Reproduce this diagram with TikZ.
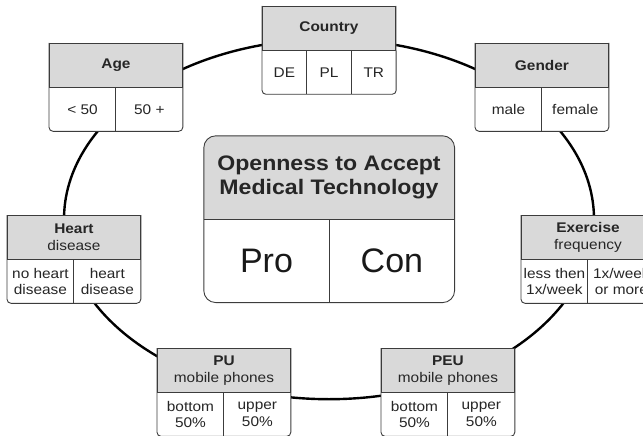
\documentclass[tikz,border=0pt]{standalone}
\usepackage{fontspec}
\setmainfont{Liberation Sans}[FakeStretch=1.1]
\newfontfamily\plainsans{Liberation Sans}
\usetikzlibrary{positioning,backgrounds}
\definecolor{headgray}{HTML}{D9D9D9}
\definecolor{edgegray}{HTML}{3C3C3C}
\definecolor{inkgray}{HTML}{262626}
\tikzset{
    head/.style={draw=edgegray, line width=0.9pt, fill=headgray, anchor=north west,
        minimum width=133pt, minimum height=44pt, inner sep=0pt, align=center,
        text=inkgray, font=\fontsize{14}{16.7}\selectfont},
    cell/.style={minimum width=66.5pt, minimum height=43pt, inner sep=0pt, align=center,
        text=inkgray, font=\fontsize{14}{16.7}\selectfont},
    cellthird/.style={cell, minimum width=44.33pt},
    corehead/.style={minimum width=250pt, minimum height=83pt, inner sep=0pt, align=center,
        text=inkgray, font=\fontsize{21}{23.5}\selectfont\bfseries},
    corecell/.style={minimum width=125pt, minimum height=83pt, inner sep=0pt,
        text=black!90, font=\plainsans\fontsize{34}{40}\selectfont},
    rule/.style={draw=edgegray, line width=0.9pt},
    ring/.style={draw=black, line width=2.4pt},
}
% white body with rounded lower corners
\newcommand{\catframe}[3]{%
    \begin{scope}[on background layer]
        \fill[white, rounded corners=4pt] (#1.north west) -- (#2.south west) -- (#3.south east) -- (#1.north east);
    \end{scope}
    \draw[rule, rounded corners=4pt] (#1.north west) -- (#2.south west) -- (#3.south east) -- (#1.north east);
}
\begin{document}
\begin{tikzpicture}[x=1pt, y=-1pt]
    \useasboundingbox (0,0) rectangle (643,436);

    % centre
    \node[corehead] (core) at (329,177.5) {Openness to Accept\\Medical Technology};
    \node[corecell, below right=0pt and 0pt of core.south west] (pro) {Pro};
    \node[corecell, right=0pt of pro] (con) {Con};
    \begin{scope}[on background layer]
        \draw[ring] (core.south) ellipse [x radius=265pt, y radius=180pt];
        \fill[white, rounded corners=12pt] (core.north west) rectangle (con.south east);
        \fill[headgray, rounded corners=12pt] (core.south west) -- (core.north west) -- (core.north east) -- (core.south east);
    \end{scope}
    \draw[rule, rounded corners=12pt] (core.north west) rectangle (con.south east);
    \draw[rule] (core.south west) -- (core.south east);
    \draw[rule] (pro.north east) -- (pro.south east);

    % age
    \node[head] (age) at (49,43) {\bfseries Age};
    \node[cell, below right=0pt and 0pt of age.south west] (age-a) {< 50};
    \node[cell, right=0pt of age-a] (age-b) {50 +};
    \catframe{age}{age-a}{age-b}
    \draw[rule] (age-a.north east) -- (age-a.south east);

    % country
    \node[head] (country) at (262,6) {\bfseries Country};
    \node[cellthird, below right=0pt and 0pt of country.south west] (country-a) {DE};
    \node[cellthird, right=0pt of country-a] (country-b) {PL};
    \node[cellthird, right=0pt of country-b] (country-c) {TR};
    \catframe{country}{country-a}{country-c}
    \draw[rule] (country-a.north east) -- (country-a.south east);
    \draw[rule] (country-b.north east) -- (country-b.south east);

    % gender
    \node[head] (gender) at (475,43) {\bfseries Gender};
    \node[cell, below right=0pt and 0pt of gender.south west] (gender-a) {male};
    \node[cell, right=0pt of gender-a] (gender-b) {female};
    \catframe{gender}{gender-a}{gender-b}
    \draw[rule] (gender-a.north east) -- (gender-a.south east);

    % heart disease
    \node[head] (heart) at (7,215) {{\bfseries Heart}\\disease};
    \node[cell, below right=0pt and 0pt of heart.south west] (heart-a) {no heart\\disease};
    \node[cell, right=0pt of heart-a] (heart-b) {heart\\disease};
    \catframe{heart}{heart-a}{heart-b}
    \draw[rule] (heart-a.north east) -- (heart-a.south east);

    % exercise
    \node[head] (exercise) at (521,215) {{\bfseries Exercise}\\frequency};
    \node[cell, below right=0pt and 0pt of exercise.south west] (exercise-a) {less then\\1x/week};
    \node[cell, right=0pt of exercise-a] (exercise-b) {1x/week\\or more};
    \catframe{exercise}{exercise-a}{exercise-b}
    \draw[rule] (exercise-a.north east) -- (exercise-a.south east);

    % PU
    \node[head] (pu) at (157,348) {{\bfseries PU}\\mobile phones};
    \node[cell, below right=0pt and 0pt of pu.south west] (pu-a) {bottom\\50\%};
    \node[cell, right=0pt of pu-a] (pu-b) {upper\\50\%};
    \catframe{pu}{pu-a}{pu-b}
    \draw[rule] (pu-a.north east) -- (pu-a.south east);

    % PEU
    \node[head] (peu) at (381,348) {{\bfseries PEU}\\mobile phones};
    \node[cell, below right=0pt and 0pt of peu.south west] (peu-a) {bottom\\50\%};
    \node[cell, right=0pt of peu-a] (peu-b) {upper\\50\%};
    \catframe{peu}{peu-a}{peu-b}
    \draw[rule] (peu-a.north east) -- (peu-a.south east);
\end{tikzpicture}
\end{document}
